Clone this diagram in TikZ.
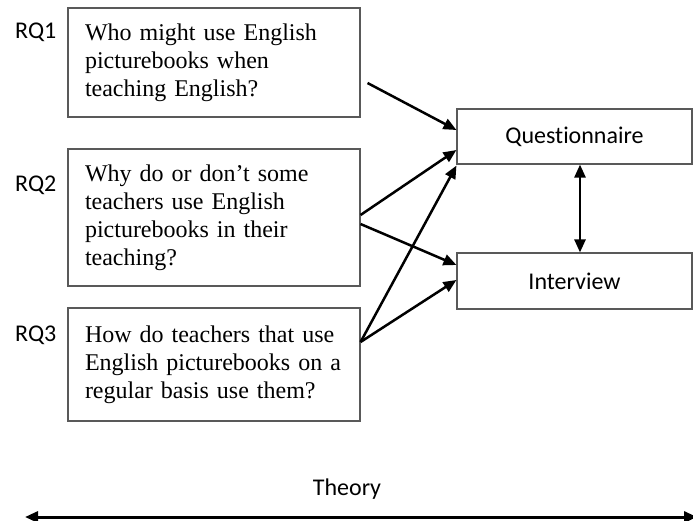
\documentclass[tikz,border=0pt]{standalone}
\usepackage{fontspec}
\setmainfont{Liberation Serif}
\newfontfamily\calibfont[Ligatures=NoCommon]{Carlito}
\usetikzlibrary{arrows.meta}
\begin{document}
\begin{tikzpicture}[x=1pt,y=-1pt,
  qbox/.style={draw=black!65, line width=1.1pt, align=left, text width=258pt, inner xsep=17pt, inner ysep=0pt,
     font=\fontsize{24}{28}\selectfont, anchor=center},
  mbox/.style={draw=black!65, line width=1.1pt, minimum width=235pt, inner sep=0pt, font=\calibfont\fontsize{24}{28}\selectfont},
  lbl/.style={font=\calibfont\fontsize{24}{28}\selectfont, inner sep=0pt},
  arr/.style={line width=2.5pt, -{Triangle[length=13pt,width=11pt]}},
  darr/.style={line width=2.5pt, {Triangle[length=13pt,width=11pt]}-{Triangle[length=13pt,width=11pt]}},
  tarr/.style={line width=3pt, {Triangle[length=13pt,width=11pt]}-{Triangle[length=13pt,width=11pt]}}]
\useasboundingbox (0,0) rectangle (693,520);

\node[qbox, minimum height=109pt] (q1) at (214,62.5) {Who might use English\\picturebooks when\\teaching English?};
\node[qbox, minimum height=137pt] (q2) at (214,217.5) {Why do or don’t some\\teachers use English\\picturebooks in their\\teaching?};
\node[qbox, minimum height=113pt] (q3) at (214,364.5) {How do teachers that use\\English picturebooks on a\\regular basis use them?};

\node[lbl, anchor=base west] (r1) at (15,38) {RQ1};
\node[lbl, anchor=base west] (r2) at (15,191) {RQ2};
\node[lbl, anchor=base west] (r3) at (15,341) {RQ3};

\node[mbox, minimum height=55pt] (qn) at (574.5,136.5) {Questionnaire};
\node[mbox, minimum height=56pt] (iv) at (574.5,281) {Interview};

\draw[arr] ([shift={(7,20.5)}]q1.east) -- ([shift={(0,-6.5)}]qn.west);
\draw[arr] ([shift={(0,-2.5)}]q2.east) -- ([shift={(0,13.5)}]qn.west);
\draw[arr] ([shift={(0,6.5)}]q2.east) -- ([shift={(0,-16)}]iv.west);
\draw[arr] ([shift={(0,-22.5)}]q3.east) -- ([shift={(0,1)}]qn.south west);
\draw[arr] ([shift={(0,-22.5)}]q3.east) -- ([shift={(0,-1)}]iv.west);
\draw[darr] ([xshift=5.5pt]qn.south) -- ([xshift=5.5pt]iv.north);

\node[lbl, anchor=base] (th) at (347,495) {Theory};
\coordinate (tl) at (25,517);
\coordinate (tr) at (697,517);
\draw[tarr] (tl) -- (tr);
\end{tikzpicture}
\end{document}
